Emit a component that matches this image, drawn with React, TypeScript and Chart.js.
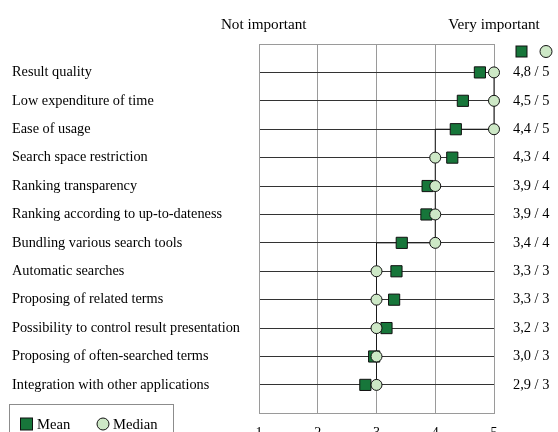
import { useEffect, useRef } from 'react';
import { Chart, registerables } from 'chart.js';

Chart.register(...registerables);

const categories = [
  'Result quality',
  'Low expenditure of time',
  'Ease of usage',
  'Search space restriction',
  'Ranking transparency',
  'Ranking according to up-to-dateness',
  'Bundling various search tools',
  'Automatic searches',
  'Proposing of related terms',
  'Possibility to control result presentation',
  'Proposing of often-searched terms',
  'Integration with other applications',
];
const meanValues = [4.76, 4.47, 4.35, 4.29, 3.87, 3.85, 3.43, 3.34, 3.3, 3.17, 2.96, 2.81];
const medianValues = [5, 5, 5, 4, 4, 4, 4, 3, 3, 3, 3, 3];
const rightLabels = [
  '4,8 / 5', '4,5 / 5', '4,4 / 5', '4,3 / 4', '3,9 / 4', '3,9 / 4',
  '3,4 / 4', '3,3 / 3', '3,3 / 3', '3,2 / 3', '3,0 / 3', '2,9 / 3',
];
const xTicks = [1, 2, 3, 4, 5];
const scaleEndLabels = ['Not important', 'Very important'];
const scaleEndPositions = [1.08, 5];
const legendLabels = ['Mean', 'Median'];

const FONT = "'Liberation Serif', 'Times New Roman', serif";
const MEAN_FILL = '#17763a';
const MEDIAN_FILL = '#cde8c6';
const EDGE = '#111';
const GRID_V = '#9a9a9a';
const GRID_H = '#333333';

function drawSquare(ctx: CanvasRenderingContext2D, cx: number, cy: number, s: number) {
  ctx.fillStyle = MEAN_FILL;
  ctx.strokeStyle = EDGE;
  ctx.lineWidth = 1;
  ctx.fillRect(cx - s / 2, cy - s / 2, s, s);
  ctx.strokeRect(cx - s / 2, cy - s / 2, s, s);
}
function drawCircle(ctx: CanvasRenderingContext2D, cx: number, cy: number, r: number) {
  ctx.beginPath();
  ctx.arc(cx, cy, r, 0, Math.PI * 2);
  ctx.fillStyle = MEDIAN_FILL;
  ctx.fill();
  ctx.strokeStyle = EDGE;
  ctx.lineWidth = 1;
  ctx.stroke();
}

const overlayPlugin = {
  id: 'overlay',
  afterDraw(chart: any) {
    const ctx: CanvasRenderingContext2D = chart.ctx;
    const area = chart.chartArea;
    ctx.save();
    // column markers above the right-hand labels
    drawSquare(ctx, area.right + 27.5, area.top + 7.5, 11);
    drawCircle(ctx, area.right + 52, area.top + 7.5, 6);
    // bottom-left legend box
    ctx.strokeStyle = '#8c8c8c';
    ctx.lineWidth = 1;
    ctx.strokeRect(1.5, 396.5, 164, 60);
    const ly = 416;
    drawSquare(ctx, 18.5, ly, 12);
    drawCircle(ctx, 95, ly, 6);
    ctx.fillStyle = '#000';
    ctx.font = `14.6px ${FONT}`;
    ctx.textBaseline = 'middle';
    ctx.textAlign = 'left';
    ctx.fillText(legendLabels[0], 29, ly + 1);
    ctx.fillText(legendLabels[1], 105, ly + 1);
    ctx.restore();
  },
};

const rowTicks = (s: any) => {
  s.ticks = categories.map((_, i) => ({ value: i }));
};

export default function App() {
  const ref = useRef<HTMLCanvasElement>(null);
  useEffect(() => {
    if (!ref.current) return;
    Chart.defaults.font.family = FONT;
    Chart.defaults.color = '#000';
    const chart = new Chart(ref.current, {
      type: 'scatter',
      data: {
        datasets: [
          {
            type: 'scatter',
            label: legendLabels[1],
            data: medianValues.map((m, i) => ({ x: m, y: i })),
            pointStyle: 'circle',
            pointRadius: 5.5,
            pointBackgroundColor: MEDIAN_FILL,
            pointBorderColor: EDGE,
            pointBorderWidth: 1,
            order: 1,
            clip: false,
          } as any,
          {
            type: 'scatter',
            label: legendLabels[0],
            data: meanValues.map((m, i) => ({ x: m, y: i })),
            pointStyle: 'rect',
            pointRadius: 7.9,
            pointBackgroundColor: MEAN_FILL,
            pointBorderColor: EDGE,
            pointBorderWidth: 1,
            order: 2,
            clip: false,
          } as any,
          {
            type: 'line',
            label: 'median-line',
            data: medianValues.map((m, i) => ({ x: m, y: i })),
            stepped: 'before',
            borderColor: '#1a1a1a',
            borderWidth: 1,
            pointRadius: 0,
            fill: false,
            order: 3,
            clip: false,
          } as any,
        ],
      },
      options: {
        responsive: false,
        animation: false,
        events: [],
        layout: { padding: { left: 4, right: 0, top: 0, bottom: 0 } },
        plugins: { legend: { display: false }, tooltip: { enabled: false } },
        scales: {
          x: {
            type: 'linear',
            position: 'bottom',
            min: 1,
            max: 5,
            afterBuildTicks: (s: any) => {
              s.ticks = xTicks.map((v) => ({ value: v }));
            },
            grid: { color: GRID_V, drawTicks: false },
            border: { display: true, color: GRID_V },
            ticks: { padding: 12, color: '#000', font: { size: 14 } },
            afterFit: (s: any) => {
              s.height = 34.7;
            },
          },
          x2: {
            type: 'linear',
            position: 'top',
            min: 1,
            max: 5,
            afterBuildTicks: (s: any) => {
              s.ticks = scaleEndPositions.map((v) => ({ value: v }));
            },
            grid: { display: false, drawTicks: false },
            border: { display: true, color: GRID_V },
            ticks: {
              padding: 10,
              color: '#000',
              font: { size: 15.2 },
              maxRotation: 0,
              autoSkip: false,
              callback: (_v: any, i: number) => scaleEndLabels[i],
            },
            afterFit: (s: any) => {
              s.height = 36;
            },
          },
          y: {
            type: 'linear',
            position: 'left',
            min: -1,
            max: 12,
            reverse: true,
            afterBuildTicks: rowTicks,
            grid: { color: GRID_H, drawTicks: false },
            border: { display: true, color: GRID_V },
            ticks: {
              crossAlign: 'far',
              autoSkip: false,
              color: '#000',
              font: { size: 14.3 },
              callback: (v: any) => categories[v],
            },
            afterFit: (s: any) => {
              s.width = 247;
            },
          },
          y2: {
            type: 'linear',
            position: 'right',
            min: -1,
            max: 12,
            reverse: true,
            afterBuildTicks: rowTicks,
            grid: { display: false, drawTicks: false },
            border: { display: true, color: GRID_V },
            ticks: {
              padding: 19,
              autoSkip: false,
              color: '#000',
              font: { size: 14.4 },
              callback: (v: any) => rightLabels[v],
            },
            afterFit: (s: any) => {
              s.width = 64;
            },
          },
        },
      } as any,
      plugins: [overlayPlugin],
    });
    return () => chart.destroy();
  }, []);
  return (
    <div style={{ position: 'absolute', left: 8, top: 8, width: 550, height: 424, overflow: 'hidden' }}>
      <canvas ref={ref} width={550} height={440} style={{ display: 'block' }} />
    </div>
  );
}
